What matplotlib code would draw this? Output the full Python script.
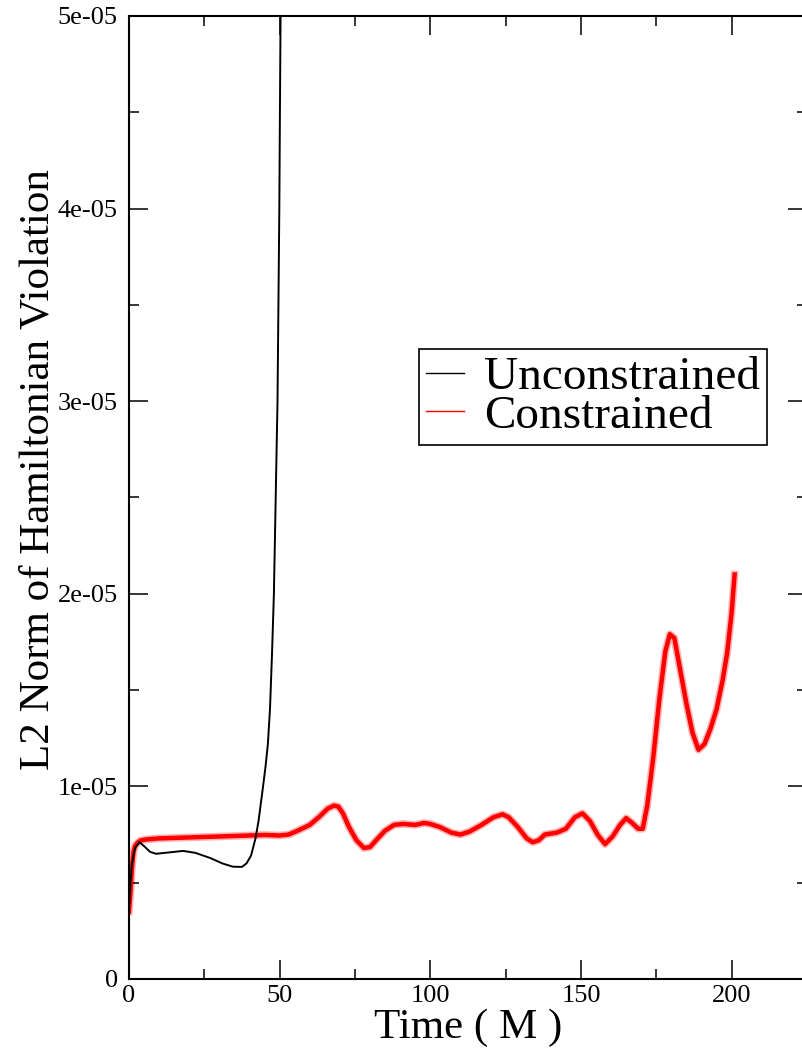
import numpy as np
import matplotlib
matplotlib.use('Agg')
import matplotlib.pyplot as plt
from matplotlib.ticker import MultipleLocator, FuncFormatter

plt.rcParams['font.family'] = ['Liberation Serif', 'DejaVu Serif']

# ---------------------------------------------------------------------------
# datos (tiempo en M, violacion en unidades de 1e-5)
# ---------------------------------------------------------------------------
t_uncon = [0, 0.5, 1, 2, 3.5, 5, 7, 9, 12, 18, 22, 27, 31, 34.5, 37.5, 39,
           40.5, 42, 43, 44.5, 45.3, 46.1, 46.8, 47.5, 48.1, 48.7, 49.3,
           49.6, 49.9, 50.1, 50.4]
h_uncon = [0.36, 0.50, 0.60, 0.68, 0.71, 0.69, 0.66, 0.65, 0.655, 0.665, 0.655,
           0.628, 0.60, 0.583, 0.582, 0.60, 0.64, 0.73, 0.82, 1.0, 1.1, 1.22,
           1.4, 1.7, 2.0, 2.5, 3.0, 3.5, 4.0, 4.5, 5.2]

t_con = [0, 0.5, 1, 1.5, 2, 3, 4, 6, 10, 20, 30, 40, 45, 50, 53, 56, 60, 63,
         66, 68, 69.5, 71, 73, 75.5, 78, 80, 82, 85, 88, 91, 95, 98, 100, 103,
         107, 110, 113, 117, 121, 124, 126, 129, 132, 134, 136, 138, 142, 145,
         148, 150.5, 153, 155.5, 158, 160.5, 163, 165, 167, 169, 170.5, 172,
         174, 176, 178, 179.5, 181, 183, 185, 187, 189, 191, 193, 195, 197,
         198.5, 200, 201]
h_con = [0.35, 0.45, 0.58, 0.66, 0.69, 0.71, 0.72, 0.725, 0.73, 0.735, 0.74,
         0.745, 0.748, 0.745, 0.75, 0.77, 0.80, 0.84, 0.885, 0.90, 0.895, 0.86,
         0.79, 0.72, 0.68, 0.685, 0.72, 0.77, 0.80, 0.805, 0.80, 0.81, 0.805,
         0.79, 0.76, 0.75, 0.765, 0.80, 0.84, 0.855, 0.84, 0.79, 0.73, 0.71,
         0.72, 0.75, 0.76, 0.78, 0.84, 0.86, 0.82, 0.75, 0.70, 0.74, 0.80,
         0.835, 0.81, 0.78, 0.78, 0.90, 1.15, 1.45, 1.70, 1.79, 1.77, 1.60,
         1.43, 1.28, 1.19, 1.22, 1.30, 1.40, 1.55, 1.69, 1.90, 2.10]

escala = 1e-5
t_uncon = np.array(t_uncon)
h_uncon = np.array(h_uncon) * escala
t_con = np.array(t_con)
h_con = np.array(h_con) * escala

# ---------------------------------------------------------------------------
# figura
# ---------------------------------------------------------------------------
fig = plt.figure(figsize=(8.03, 10.57), dpi=100)
ax = fig.add_axes([0.1606, 0.0738, 0.8443, 0.9111])

ax.plot(t_uncon, h_uncon, color='black', linewidth=1.4, zorder=3,
        label='Unconstrained')
ax.plot(t_con, h_con, color='red', linewidth=3.2, zorder=2,
        solid_joinstyle='round', label='Constrained')
ax.plot(t_con, h_con, color='red', linewidth=5.5, alpha=0.3, zorder=1,
        solid_joinstyle='round')

ax.set_xlim(0, 225)
ax.set_ylim(0, 5e-5)

ax.xaxis.set_major_locator(MultipleLocator(50))
ax.xaxis.set_minor_locator(MultipleLocator(25))
ax.yaxis.set_major_locator(MultipleLocator(1e-5))
ax.yaxis.set_minor_locator(MultipleLocator(0.5e-5))
ax.yaxis.set_major_formatter(FuncFormatter(lambda v, p: '%g' % v))

ax.tick_params(which='both', direction='in', top=True, right=True,
               width=1.1, labelsize=19)
ax.tick_params(which='major', length=14)
ax.tick_params(which='minor', length=7)
ax.tick_params(axis='x', pad=4)
ax.tick_params(axis='y', pad=8)
for s in ax.spines.values():
    s.set_linewidth(1.5)

ax.set_xlabel('Time ( M )', fontsize=31)
ax.xaxis.set_label_coords(0.5, -0.0613)
ax.xaxis.label.set_va('baseline')

ax.set_ylabel('L2 Norm of Hamiltonian Violation', fontsize=31)
ax.yaxis.set_label_coords(-0.118, 0.529)
ax.yaxis.label.set_va('baseline')

leg = ax.legend(loc='upper left', bbox_to_anchor=(0.4277, 0.654),
                borderaxespad=0, fontsize=34, frameon=True, fancybox=False,
                framealpha=1, edgecolor='black', handlelength=0.8,
                handletextpad=0.42, borderpad=0.15, labelspacing=-0.1)
leg.get_frame().set_linewidth(1.2)
for ln in leg.get_lines():
    ln.set_linewidth(1.0)

fig.savefig('out.png', dpi=100)
